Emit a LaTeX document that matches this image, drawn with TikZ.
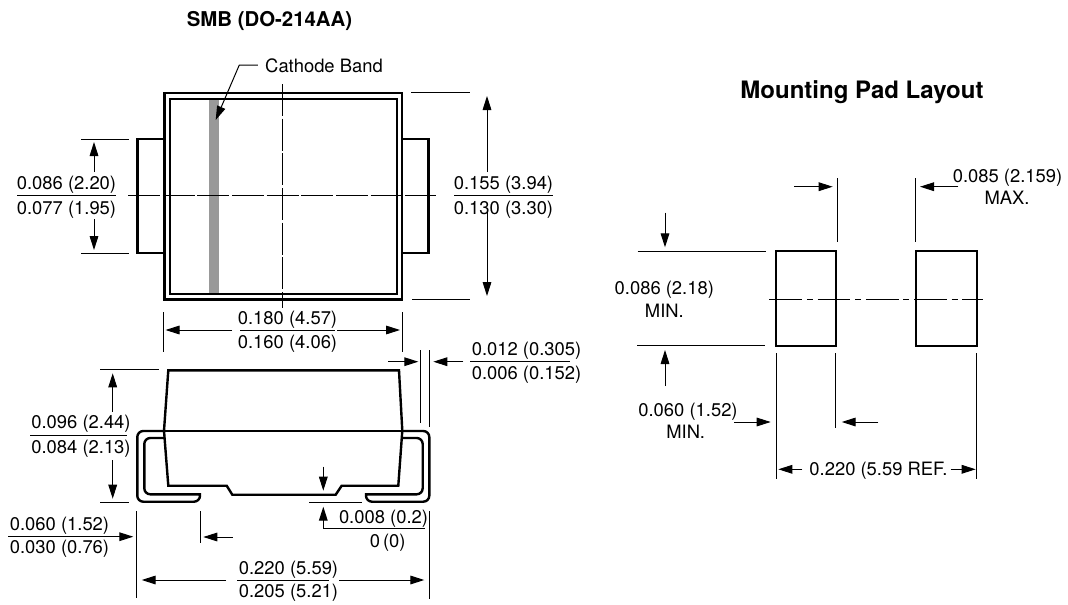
\documentclass[tikz,border=0pt]{standalone}
\usepackage{fontspec}
\setmainfont{TeX Gyre Heros}
\usetikzlibrary{arrows.meta}
\tikzset{
  thickline/.style={line width=1.8pt, black, line join=miter},
  thinline/.style={line width=0.75pt, black},
  dimarrow/.style={line width=0.75pt, black, -{Stealth[length=10.5pt,width=6.5pt,inset=0pt]}},
  centerline/.style={line width=0.75pt, black, dash pattern=on 24pt off 2pt},
  padcenter/.style={line width=0.75pt, black, dash pattern=on 24.5pt off 3.7pt on 4.5pt off 3.5pt},
  lbl/.style={inner sep=0pt, anchor=base, font=\fontsize{13.8}{14}\selectfont},
  ttl/.style={inner sep=0pt, anchor=base, font=\fontsize{15.3}{16}\selectfont\bfseries},
  ttlb/.style={inner sep=0pt, anchor=base, font=\fontsize{18}{19}\selectfont\bfseries},
}
\begin{document}
\begin{tikzpicture}[x=0.75pt,y=-0.75pt]
\useasboundingbox[fill=white] (0,0) rectangle (1068,604);
% titles
\node[ttl] (t1) at (269.5,26) {SMB (DO-214AA)};
\node[ttlb] (t2) at (862,98) {Mounting Pad Layout};
% top view
\fill[black!40] (209,99) rectangle (219,294);
\draw[thickline] (164.3,92.7) rectangle (402,299.3);
\draw[thickline] (169.7,99) rectangle (396.7,294);
\draw[thickline] (164.3,139) -- (137.3,139) -- (137.3,252.7) -- (164.3,252.7);
\draw[thickline] (402,139) -- (428.3,139) -- (428.3,252.7) -- (402,252.7);
\draw[centerline] (128,195.3) -- (435.7,195.3);
\draw[centerline] (282.7,84) -- (282.7,308);
\node[lbl] (cb) at (324,72.5) {Cathode Band};
\coordinate (cbtip) at (215.7,120);
\draw[dimarrow] (cb.west |- 0,65) ++(-7,0) -- (239.3,65) -- (cbtip);
% left dims top view
\draw[thinline] (81,139) -- (129,139);
\draw[thinline] (81,253) -- (129,253);
\draw[dimarrow] (94,172) -- (94,142);
\draw[dimarrow] (94,219) -- (94,250);
\node[lbl] (a1) at (66.5,189.5) {0.086 (2.20)};
\node[lbl] (a2) at (66.5,214.5) {0.077 (1.95)};
\draw[thinline] (17,195.3) -- (116,195.3);
% right dims top view
\draw[thinline] (411,92.7) -- (470,92.7);
\draw[thinline] (412,299.6) -- (470,299.6);
\draw[dimarrow] (487,172) -- (487,96);
\draw[dimarrow] (487,212) -- (487,296);
\node[lbl] (b1) at (503.5,189.5) {0.155 (3.94)};
\node[lbl] (b2) at (503.5,214.5) {0.130 (3.30)};
\draw[thinline] (454,195.3) -- (553,195.3);
% width dims
\draw[thinline] (163,312) -- (163,352);
\draw[thinline] (402,312) -- (402,352);
\draw[dimarrow] (232,330) -- (165.5,330);
\draw[dimarrow] (337,330) -- (400,330);
\node[lbl] (c1) at (287.5,324.5) {0.180 (4.57)};
\node[lbl] (c2) at (287.5,348.5) {0.160 (4.06)};
\draw[thinline] (240,330) -- (335,330);
% side view
\draw[thickline] (164,430.7) -- (168.3,370.3) -- (399,370.3) -- (402.3,430.7) -- (398.3,485.7) -- (341.7,485.7) -- (335.7,494.7) -- (232.3,494.7) -- (226.7,485.7) -- (168.3,485.7) -- cycle;
\draw[thickline] (164,431) -- (402.3,431);
\draw[thickline,rounded corners=4.5] (402.3,431) -- (429.3,431) -- (429.3,501.7) -- (366,501.7) [sharp corners] -- (366,494.3) [rounded corners=4.5] -- (422.7,494.3) -- (422.7,438) -- (402,438);
\draw[thickline,rounded corners=4.5] (164,431) -- (137.3,431) -- (137.3,501.7) -- (200,501.7) [sharp corners] -- (200,494.3) [rounded corners=4.5] -- (144.3,494.3) -- (144.3,438) -- (164.5,438);
% height
\draw[thinline] (100,369.7) -- (159,369.7);
\draw[thinline] (100,502.3) -- (129,502.3);
\draw[dimarrow] (112.7,411.7) -- (112.7,373.3);
\draw[dimarrow] (112.7,460) -- (112.7,498.7);
\node[lbl] (d1) at (81,428.5) {0.096 (2.44)};
\node[lbl] (d2) at (81,453.5) {0.084 (2.13)};
\draw[thinline] (30,435.7) -- (127,435.7);
% lead length
\node[lbl] (e1) at (59.5,530.5) {0.060 (1.52)};
\node[lbl] (e2) at (59.5,553) {0.030 (0.76)};
\draw[thinline] (8,536.7) -- (100,536.7);
\draw[dimarrow] (100,536.7) -- (133.3,536.7);
\draw[thinline] (136.7,511) -- (136.7,598);
\draw[thinline] (200,511) -- (200,543);
\draw[dimarrow] (232.7,537) -- (203.3,537);
% overall width
\draw[dimarrow] (226,580) -- (141.7,580);
\draw[dimarrow] (339.3,580) -- (424.3,580);
\draw[thinline] (429,511) -- (429,599);
\node[lbl] (f1) at (288.5,574) {0.220 (5.59)};
\node[lbl] (f2) at (288.5,597.5) {0.205 (5.21)};
\draw[thinline] (237,580) -- (329,580);
% lead thickness
\draw[thinline] (420.7,350) -- (420.7,423);
\draw[thinline] (429,350) -- (429,426.7);
\draw[dimarrow] (388.3,361.7) -- (418.3,361.7);
\draw[dimarrow] (463.3,361.7) -- (433.3,361.7);
\node[lbl] (g1) at (526.5,355.5) {0.012 (0.305)};
\node[lbl] (g2) at (526.5,379) {0.006 (0.152)};
\draw[thinline] (470,361.7) -- (570,361.7);
% standoff
\draw[dimarrow] (323.3,466.7) -- (323.3,490.7);
\draw[thinline] (309,502) -- (361.7,502);
\draw[dimarrow] (425,528) -- (323.3,528) -- (323.3,506.7);
\node[lbl] (h1) at (383.5,523) {0.008 (0.2)};
\node[lbl] (h2) at (387.7,547) {0\,(0)};
% mounting pads
\draw[thickline] (775.7,251) rectangle (836,345.7);
\draw[thickline] (915.7,251) rectangle (976.7,345.7);
\draw[padcenter] (769.3,299) -- (982.7,299);
\draw[thinline] (837.3,178.3) -- (837.3,242.3);
\draw[thinline] (915.3,178.3) -- (915.3,242.3);
\draw[dimarrow] (794.3,186.7) -- (832.7,186.7);
\draw[dimarrow] (958.3,186.7) -- (920,186.7);
\node[lbl] (m1) at (1007.5,182.5) {0.085 (2.159)};
\node[lbl] (m2) at (1007,204) {MAX.};
\draw[thinline] (637.7,251.3) -- (765.7,251.3);
\draw[thinline] (637,345.3) -- (765,345.3);
\draw[dimarrow] (665,212.7) -- (665,247.3);
\draw[dimarrow] (665,386) -- (665,350);
\node[lbl] (n1) at (664.3,294.5) {0.086 (2.18)};
\node[lbl] (n2) at (664.3,317) {MIN.};
\node[lbl] (o1) at (688,416.5) {0.060 (1.52)};
\node[lbl] (o2) at (685.7,438) {MIN.};
\draw[dimarrow] (734,422) -- (770.7,422);
\draw[dimarrow] (878.3,422) -- (841.7,422);
\draw[thinline] (776,353.3) -- (776,479);
\draw[thinline] (835.7,353.3) -- (835.7,428.3);
\draw[thinline] (976.7,353.3) -- (976.7,479);
\draw[dimarrow] (802.3,469.3) -- (778.3,469.3);
\draw[dimarrow] (950.7,469.3) -- (975.7,469.3);
\node[lbl] (p1) at (878.5,475.5) {0.220 (5.59 REF.};
\end{tikzpicture}
\end{document}
